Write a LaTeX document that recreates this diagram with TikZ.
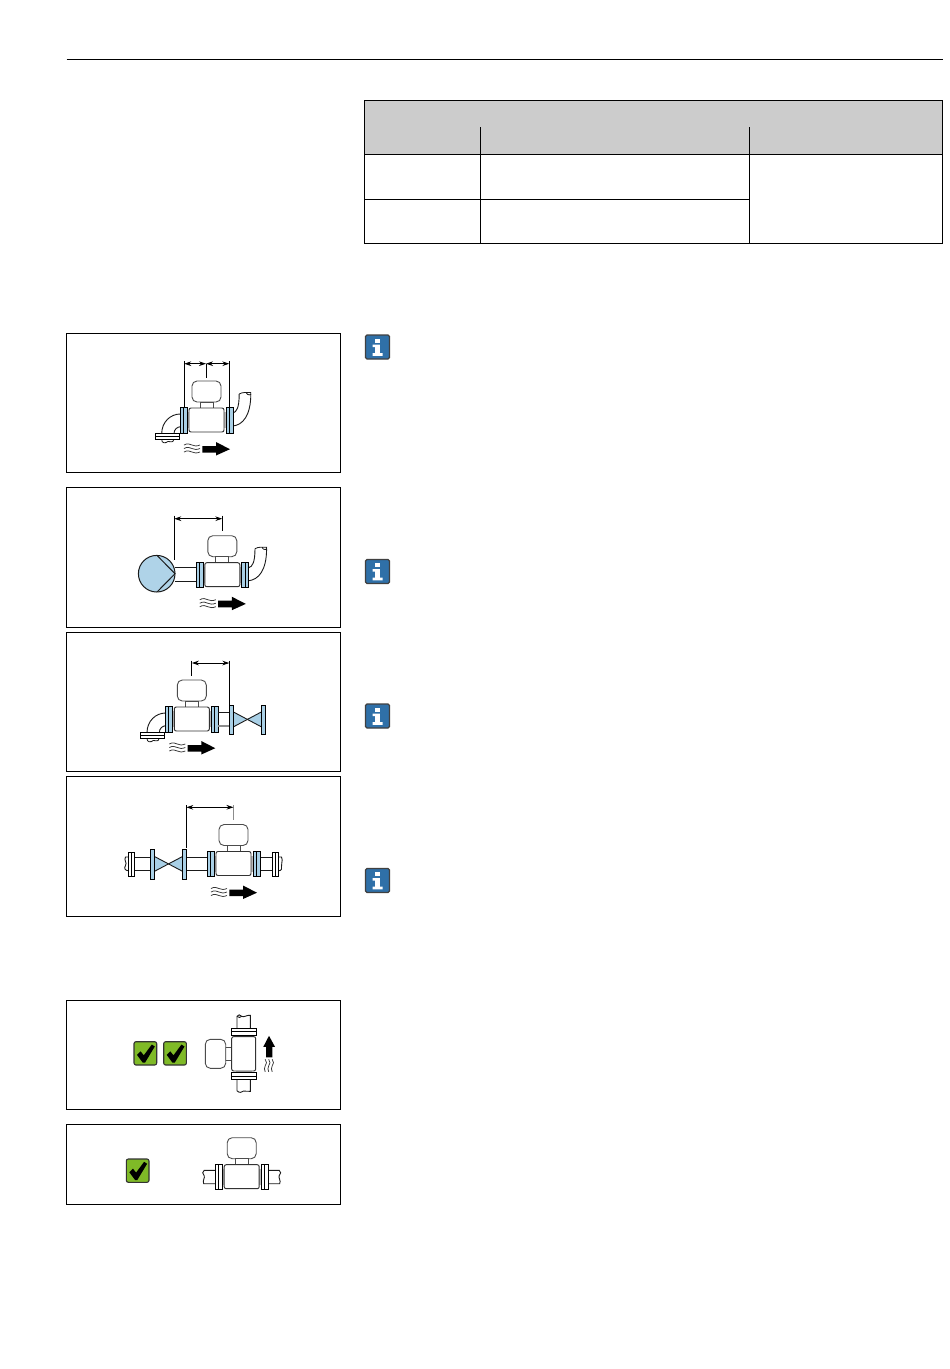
\documentclass[tikz,border=0pt]{standalone}
\usetikzlibrary{arrows.meta}
\definecolor{fblue}{HTML}{A9D0E6}
\definecolor{pumpblue}{HTML}{AFD3E8}
\definecolor{okgreen}{HTML}{7FBA27}
\definecolor{infoblue}{HTML}{2F70A8}
\definecolor{hdrgray}{HTML}{CCCCCC}
\definecolor{ln}{HTML}{1A1A1A}
\tikzset{
  x=1pt,y=-1pt,
  thin line/.style={line width=0.9pt,draw=ln},
  frame box/.style={line width=0.85pt,draw=black,fill=white},
  table line/.style={line width=1pt,draw=black},
  plate/.style={line width=0.8pt,draw=black},
  dim/.style={line width=0.8pt,draw=black,{Stealth[length=7pt,width=4.6pt]}-{Stealth[length=7pt,width=4.6pt]}},
  dim end/.style={line width=0.9pt,draw=black},
  meter/.pic={
    \fill[gray!55] (-19.5,-8) rectangle (-17,8);
    \fill[gray!55] (17,-8) rectangle (19.5,8);
    \draw[line width=0.9pt,draw=black!70,rounded corners=5pt,fill=white] (-14.5,-39) rectangle (14.5,-18);
    \draw[line width=0.9pt,draw=black!70,fill=white] (-6.5,-18) rectangle (6.5,-12);
    \draw[line width=0.95pt,draw=black!80,rounded corners=2pt,fill=white] (-17.5,-12) rectangle (17.5,12);
  },
  flow/.pic={
    \foreach \yy in {25,28.5,32}{
      \draw[line width=0.75pt,draw=black!80] (-22.5,\yy) .. controls (-19,{\yy-2}) and (-17,{\yy-1}) .. (-14.5,\yy) .. controls (-12,{\yy+1}) and (-10,{\yy+1.5}) .. (-6.5,\yy);
    }
    \fill[black] (-4.2,26) -- (9.5,26) -- (9.5,22) -- (23.5,29.2) -- (9.5,35.5) -- (9.5,32.7) -- (-4.2,32.7) -- cycle;
  },
  elbowL/.pic={
    \draw[thin line] (-26.2,-6) .. controls (-36,-6) and (-44.8,2) .. (-44.8,13.7);
    \draw[thin line] (-26.2,6.7) .. controls (-29,7) and (-32.5,9) .. (-32.5,13.7);
    \draw[line width=0.8pt,draw=ln] (-44.8,19.3) .. controls (-45,23.5) and (-41,23.5) .. (-38.5,21.5) .. controls (-36,20.5) and (-34,24) .. (-32.5,19.3);
    \draw[line width=1pt,draw=black,fill=white] (-51.2,13.7) rectangle (-27.2,16.5);
    \draw[line width=1pt,draw=black,fill=white] (-51.2,16.5) rectangle (-27.2,19.3);
  },
  elbowR/.pic={
    \draw[thin line] (26.4,-7) .. controls (30,-8) and (32.7,-12) .. (32.7,-26);
    \draw[thin line] (26.4,6) .. controls (36,5) and (44.3,-4) .. (44.3,-26);
    \draw[line width=0.8pt,draw=ln] (32.7,-26) .. controls (36,-28) and (40,-27.5) .. (44.3,-27.5) .. controls (45.5,-24.5) and (41,-24.5) .. (40,-26.8);
  },
  check/.pic={
    \draw[line width=1.1pt,draw=black!80,fill=okgreen,rounded corners=2pt] (0,0) rectangle (22.7,23.3);
    \fill[black] (3,13.2) -- (6.6,9.6) -- (9.8,13.6) -- (17.8,2.8) -- (20.8,4.8) -- (11,21) -- (8.8,21) -- cycle;
  },
  info/.pic={
    \draw[line width=1.2pt,draw=black!75,fill=infoblue,rounded corners=1.5pt] (0,0) rectangle (24,24);
    \fill[white] (9.6,3.6) rectangle (14.4,7.6);
    \fill[white] (7,9.6) -- (14.4,9.6) -- (14.4,18) -- (17,18) -- (17,20.8) -- (7,20.8) -- (7,18) -- (9.6,18) -- (9.6,12) -- (7,12) -- cycle;
  }
}
\newcommand\twoplate[3]{% x-left, fill, unused top
  \draw[plate,fill=#2] (#1,-12.5) rectangle ({#1+3.5},13);
  \draw[plate,fill=#2] ({#1+3.5},-12.5) rectangle ({#1+7},13);
}
\newcommand\valve[3]{% x-left-flange-left, x-right-flange-left, centre x
  \fill[fblue] ({#1+4.2},-7) -- (#3,0) -- ({#2},-7) -- ({#2},7.8) -- (#3,0) -- ({#1+4.2},7.8) -- cycle;
  \draw[thin line] ({#1+4.2},-7) -- ({#2},7.8);
  \draw[thin line] ({#1+4.2},7.8) -- ({#2},-7);
  \draw[plate,fill=fblue] (#1,-14) rectangle ({#1+4.2},15.5);
  \draw[plate,fill=fblue] (#2,-14) rectangle ({#2+4.2},15.5);
}
\begin{document}
\begin{tikzpicture}[x=1pt,y=-1pt]
\useasboundingbox (0,0) rectangle (950,1369);
\fill[white] (0,0) rectangle (950,1369);
% header rule
\draw[line width=0.8pt,black] (66.5,59.5) -- (942.5,59.5);
% table
\fill[hdrgray] (364.5,100) rectangle (942.5,154.5);
\draw[table line] (364.5,100) rectangle (942.5,243.5);
\draw[table line] (364.5,154.5) -- (942.5,154.5);
\draw[table line] (364.5,199.5) -- (749.5,199.5);
\draw[table line] (480.3,127) -- (480.3,243.5);
\draw[table line] (749.5,127) -- (749.5,243.5);
% frames
\draw[frame box] (66.5,333.5) rectangle (340.5,472.5);
\draw[frame box] (66.5,487.5) rectangle (340.5,627.5);
\draw[frame box] (66.5,632.5) rectangle (340.5,771.5);
\draw[frame box] (66.5,776.5) rectangle (340.5,916.5);
\draw[frame box] (66.5,1000.5) rectangle (340.5,1109.5);
\draw[frame box] (66.5,1124.5) rectangle (340.5,1204.5);
% info icons
\pic at (365.5,335) {info};
\pic at (365.5,559.5) {info};
\pic at (365.5,704) {info};
\pic at (365.5,868.5) {info};
% figure 1
\begin{scope}[shift={(206.5,420)}]
  \pic {elbowL};
  \pic {elbowR};
  \pic {meter};
  \twoplate{-26.2}{fblue}{}
  \twoplate{19.6}{fblue}{}
  \pic {flow};
  \draw[dim end] (-22.2,-58.7) -- (-22.2,-12.5);
  \draw[dim end] (-0.5,-56.3) -- (-0.5,-42.3);
  \draw[dim end] (22.8,-58.7) -- (22.8,-12.5);
  \draw[dim] (-22.2,-56.3) -- (-0.5,-56.3);
  \draw[dim] (-0.5,-56.3) -- (22.8,-56.3);
\end{scope}
% figure 2
\begin{scope}[shift={(222.3,574.7)}]
  \draw[thin line] (-47,-7) -- (-26,-7);
  \draw[thin line] (-47,6.3) -- (-26,6.3);
  \draw[line width=1pt,draw=ln,fill=pumpblue] (-65.6,-1) circle[radius=18.3];
  \draw[line width=1pt,draw=ln] (-65,-19) -- (-47.3,-1) -- (-65,17);
  \pic {elbowR};
  \pic {meter};
  \twoplate{-26}{fblue}{}
  \twoplate{19.5}{fblue}{}
  \pic {flow};
  \draw[dim end] (-48,-59) -- (-48,-14.7);
  \draw[dim end] (0,-59) -- (0,-43.7);
  \draw[dim] (-48,-56) -- (0,-56);
\end{scope}
% figure 3
\begin{scope}[shift={(191.8,719)}]
  \pic {elbowL};
  \pic {meter};
  \twoplate{-26.5}{fblue}{}
  \twoplate{19.2}{fblue}{}
  \pic {flow};
  \draw[thin line] (26,-6.5) -- (37.5,-6.5);
  \draw[line width=1.2pt,draw=black!45] (26,7) -- (37.5,7);
  \valve{37.5}{69.5}{55.2}
  \draw[dim end] (0,-58.3) -- (0,-43.3);
  \draw[dim end] (37.5,-58.3) -- (37.5,-14);
  \draw[dim] (0,-56) -- (37.5,-56);
\end{scope}
% figure 4
\begin{scope}[shift={(233.5,863.5)}]
  \draw[thin line] (-47,-6.5) -- (-26,-6.5);
  \draw[thin line] (-47,7.2) -- (-26,7.2);
  \draw[thin line] (-99,-6.5) -- (-83,-6.5);
  \draw[thin line] (-99,7.2) -- (-83,7.2);
  \draw[thin line] (26,-6.5) -- (39,-6.5);
  \draw[thin line] (26,7.2) -- (39,7.2);
  \draw[thin line] (-105,-6.5) -- (-108,-6.5) .. controls (-110,-3) and (-106,-1) .. (-108,2) .. controls (-110,5) and (-108,7.2) .. (-105,7.2);
  \draw[thin line] (45,-6.5) -- (48,-6.5) .. controls (50,-2) and (47,0) .. (48,3) .. controls (49,5) and (48,7.2) .. (45,7.2);
  \valve{-83.2}{-51}{-65.2}
  \pic {meter};
  \twoplate{-26.2}{fblue}{}
  \twoplate{19.6}{fblue}{}
  \draw[plate,fill=white] (-105.2,-11.2) rectangle (-102.2,12.5);
  \draw[plate,fill=white] (-102.2,-11.2) rectangle (-99.2,12.5);
  \draw[plate,fill=white] (38.8,-11.2) rectangle (42,12.5);
  \draw[plate,fill=white] (42,-11.2) rectangle (45.2,12.5);
  \pic {flow};
  \draw[dim end] (-47.2,-58.5) -- (-47.2,-15.2);
  \draw[line width=0.7pt,draw=black!45] (0,-58.5) -- (0,-43.8);
  \draw[dim] (-47.2,-56.2) -- (0,-56.2);
\end{scope}
% figure 5
\pic at (134,1041.7) {check};
\pic at (163.7,1041.7) {check};
\begin{scope}[shift={(243.7,1053.8)}]
  \draw[thin line] (-6.7,-26) -- (-6.7,-37.5) .. controls (-5.5,-39.5) and (-3.5,-39.5) .. (-2,-37.5) .. controls (0,-36) and (3,-39) .. (6.7,-38.5) -- (6.7,-26);
  \draw[thin line] (-6.7,-37.5) .. controls (-5,-36) and (-3.5,-36) .. (-2,-37.5);
  \draw[thin line] (-6.7,26) -- (-6.7,37) .. controls (-4,39.5) and (-2,38.5) .. (0,37.2) .. controls (2,36) and (4,39) .. (6.7,37.5) -- (6.7,26);
  \fill[gray!55] (-8,-19.5) rectangle (8,-17);
  \fill[gray!55] (-8,17) rectangle (8,19.5);
  \draw[line width=0.9pt,draw=black!70,fill=white] (-18,-6.5) rectangle (-12,6.5);
  \draw[line width=0.9pt,draw=black!70,rounded corners=5pt,fill=white] (-38.4,-14.5) rectangle (-18,14.5);
  \draw[line width=0.95pt,draw=black!80,rounded corners=2pt,fill=white] (-12,-17.2) rectangle (12,17.2);
  \draw[plate,fill=white] (-12.2,-25.5) rectangle (12.2,-22);
  \draw[plate,fill=white] (-12.2,-22) rectangle (12.2,-18.5);
  \draw[plate,fill=white] (-12.2,19) rectangle (12.2,22.5);
  \draw[plate,fill=white] (-12.2,22.5) rectangle (12.2,26);
  \foreach \xx in {21.5,25,28.5}{
    \draw[line width=0.75pt,draw=black!80] (\xx,5.5) .. controls ({\xx+2},8) and ({\xx+1.5},10) .. (\xx,12) .. controls ({\xx-1},14) and ({\xx-1},16) .. ({\xx},18);
  }
  \fill[black] (22.3,3.5) -- (22.3,-7) -- (19.6,-7) -- (25.3,-18) -- (31.3,-7) -- (28.6,-7) -- (28.6,3.5) -- cycle;
\end{scope}
% figure 6
\pic at (126.3,1159) {check};
\begin{scope}[shift={(241.7,1176.7)}]
  \draw[thin line] (-26,-6.4) -- (-37.5,-6.4) .. controls (-39.5,-5) and (-39.5,-3) .. (-37.5,-1) .. controls (-36.5,1) and (-39.5,4) .. (-38,7) -- (-26,7);
  \draw[thin line] (26,-6.4) -- (37.5,-6.4) .. controls (39.5,-5) and (39.5,-3) .. (37.5,-1) .. controls (36.5,1) and (39.5,4) .. (38,7) -- (26,7);
  \pic {meter};
  \twoplate{-26.4}{white}{}
  \twoplate{19.4}{white}{}
\end{scope}
\end{tikzpicture}
\end{document}
